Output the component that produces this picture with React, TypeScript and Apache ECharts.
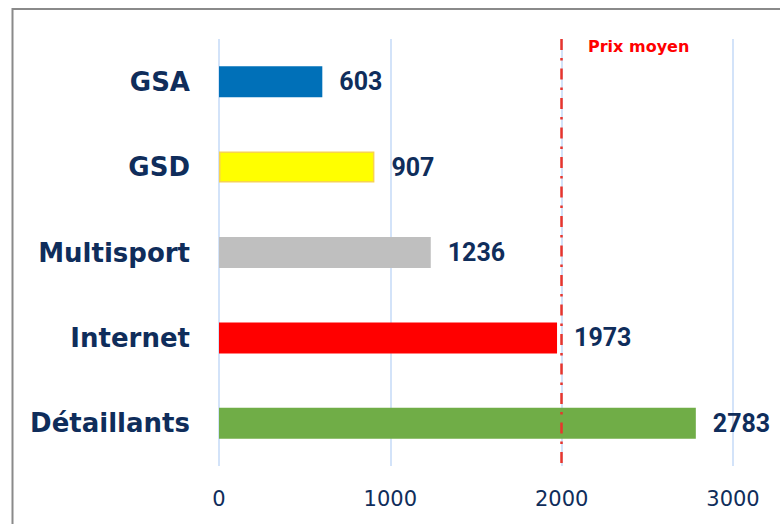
import React, { useEffect, useRef } from "react";
import * as echarts from "echarts";

const categories = ["GSA", "GSD", "Multisport", "Internet", "Détaillants"];
const values = [603, 907, 1236, 1973, 2783];
const barColors = ["#0070b8", "#ffff00", "#bfbfbf", "#ff0000", "#70ad47"];
const averagePrice = 2000;
const averageLabel = "Prix moyen";
const xTicks = { min: 0, max: 3000, interval: 1000 };

const NAVY = "#0f2d5b";

export default function App() {
  const ref = useRef<HTMLDivElement>(null);
  useEffect(() => {
    if (!ref.current) return;
    const chart = echarts.init(ref.current, null, { renderer: "svg" });
    chart.setOption({
      animation: false,
      backgroundColor: "#ffffff",
      grid: { left: 219, right: 47, top: 39, bottom: 58, containLabel: false },
      xAxis: {
        type: "value",
        min: xTicks.min,
        max: xTicks.max,
        interval: xTicks.interval,
        axisLine: { show: false },
        axisTick: { show: false },
        splitLine: { show: true, lineStyle: { color: "#d3e3f9", width: 2 } },
        axisLabel: {
          color: NAVY,
          fontFamily: "DejaVu Sans",
          fontSize: 21,
          margin: 22,
          formatter: (v: number) => String(v),
        },
      },
      yAxis: {
        type: "category",
        inverse: true,
        data: categories,
        axisLine: { show: false },
        axisTick: { show: false },
        axisLabel: {
          color: NAVY,
          fontFamily: "DejaVu Sans",
          fontWeight: "bold",
          fontSize: 26,
          margin: 29,
        },
      },
      series: [
        {
          type: "bar",
          barWidth: 31,
          data: values.map((v, i) => ({
            value: v,
            itemStyle: {
              color: barColors[i],
              borderColor: i === 1 ? "#f7d34f" : barColors[i],
              borderWidth: i === 1 ? 1.5 : 0,
            },
          })),
          label: {
            show: true,
            position: "right",
            distance: 17,
            color: NAVY,
            fontFamily: "Roboto",
            fontWeight: "bold",
            fontSize: 25,
          },
          markLine: {
            silent: true,
            symbol: "none",
            label: { show: false },
            lineStyle: { color: "#e8352d", width: 2.5, type: [11, 8, 2.5, 8] },
            data: [{ xAxis: averagePrice }],
          },
        },
      ],
      graphic: [
        {
          type: "rect",
          shape: { x: 12.5, y: 9, width: 800, height: 600 },
          style: { fill: "none", stroke: "#8a8a8a", lineWidth: 2 },
          silent: true,
        },
        {
          type: "text",
          left: 588,
          top: 38,
          style: {
            text: averageLabel,
            fill: "#ff0000",
            fontFamily: "DejaVu Sans",
            fontWeight: "bold",
            fontSize: 16,
          },
        },
      ],
    });
    return () => chart.dispose();
  }, []);
  return (
    <div
      ref={ref}
      style={{ position: "fixed", left: 0, top: 0, width: 780, height: 524 }}
    />
  );
}
